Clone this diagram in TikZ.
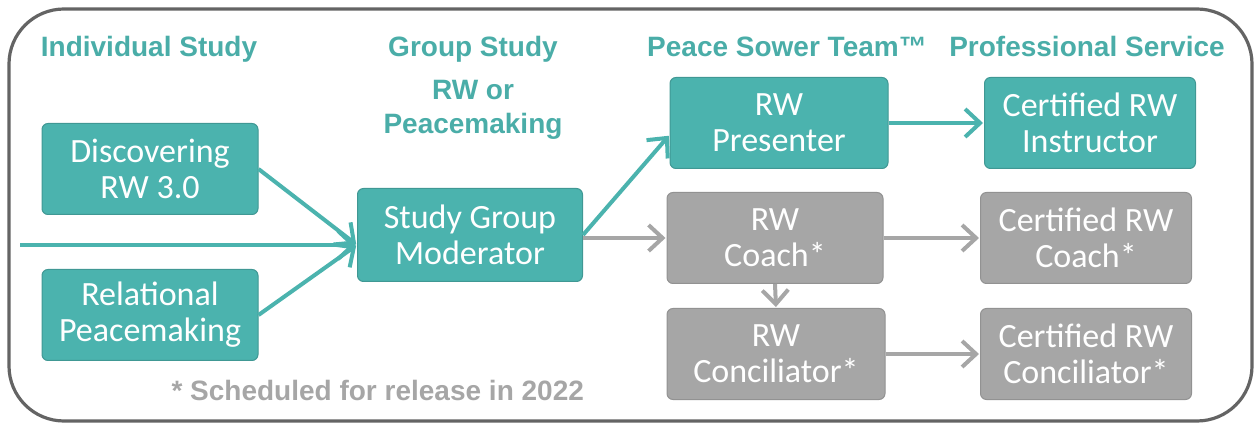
\documentclass[tikz,border=0pt]{standalone}
\usepackage{fontspec}
\setmainfont{Carlito}
\newfontfamily\headfont{Liberation Sans}
\usetikzlibrary{arrows.meta}
\definecolor{rwteal}{HTML}{4BB3AE}
\definecolor{rwhead}{HTML}{4AADA8}
\definecolor{rwgray}{HTML}{A6A6A6}
\definecolor{framegray}{HTML}{646464}

\begin{document}
\begin{tikzpicture}[x=1pt,y=-1pt,
  box/.style={rounded corners=6pt,minimum width=216pt,minimum height=91pt,
    align=center,text=white,line width=1pt,font=\fontsize{34}{36}\selectfont},
  tealbox/.style={box,fill=rwteal,draw=rwteal!85!black},
  graybox/.style={box,fill=rwgray,draw=rwgray!88!black},
  head/.style={anchor=base,text=rwhead,font=\headfont\bfseries\fontsize{28}{34}\selectfont},
  tealarr/.style={draw=rwteal,line width=4pt,shorten >=1pt,
    -{Straight Barb[length=15pt,width=28pt]}},
  grayarr/.style={draw=rwgray,line width=4pt,shorten >=1pt,
    -{Straight Barb[length=14pt,width=26pt]}}]
\useasboundingbox (0,0) rectangle (1258,427);
\draw[framegray,line width=3.2pt,rounded corners=55pt] (9,9) rectangle (1252,421);

% column headings
\node (h1) at (149,57) [head] {Individual Study};
\node (h2) at (473,57) [head] {Group Study};
\node (h2b) at (473,100) [head] {RW or};
\node (h2c) at (473,134) [head] {Peacemaking};
\node (h3) at (787,57) [head] {Peace Sower Team™};
\node (h4) at (1087,57) [head] {Professional Service};

% steps
\node (d) at (150,169) [tealbox] {Discovering\\RW 3.0};
\node (r) at (150,315) [tealbox] {Relational\\Peacemaking};
\node (m) at (470,235) [tealbox,minimum width=225pt,minimum height=93pt] {Study Group\\Moderator};
\node (p) at (779,123) [tealbox,minimum width=218pt] {RW\\Presenter};
\node (c) at (775,238) [graybox] {RW\\Coach*};
\node (n) at (776,354) [graybox,minimum width=218pt] {RW\\Conciliator*};
\node (i) at (1090,123) [tealbox,minimum width=211pt] {Certified RW\\Instructor};
\node (cc) at (1086,238) [graybox,minimum width=211pt] {Certified RW\\Coach*};
\node (cn) at (1086,354) [graybox,minimum width=211pt] {Certified RW\\Conciliator*};

\node (note) at (168,400) [anchor=base west,text=rwgray,
  font=\headfont\bfseries\fontsize{28}{34}\selectfont] {* Scheduled for release in 2022};

% connectors
\coordinate (start) at (20,245);
\draw[tealarr] (d.east) -- (m.west |- start);
\draw[tealarr] (start) -- (m.west |- start);
\draw[tealarr] (r.east) -- (m.west |- start);
\draw[tealarr] (m.east) -- ([yshift=-12pt]p.west);
\draw[grayarr] (m.east |- c.west) -- (c.west);
\draw[tealarr] (p.east) -- (i.west);
\draw[grayarr] (c.east) -- (cc.west);
\draw[grayarr] (c.south) -- (n.north);
\draw[grayarr] (n.east) -- (cn.west);
\end{tikzpicture}
\end{document}
